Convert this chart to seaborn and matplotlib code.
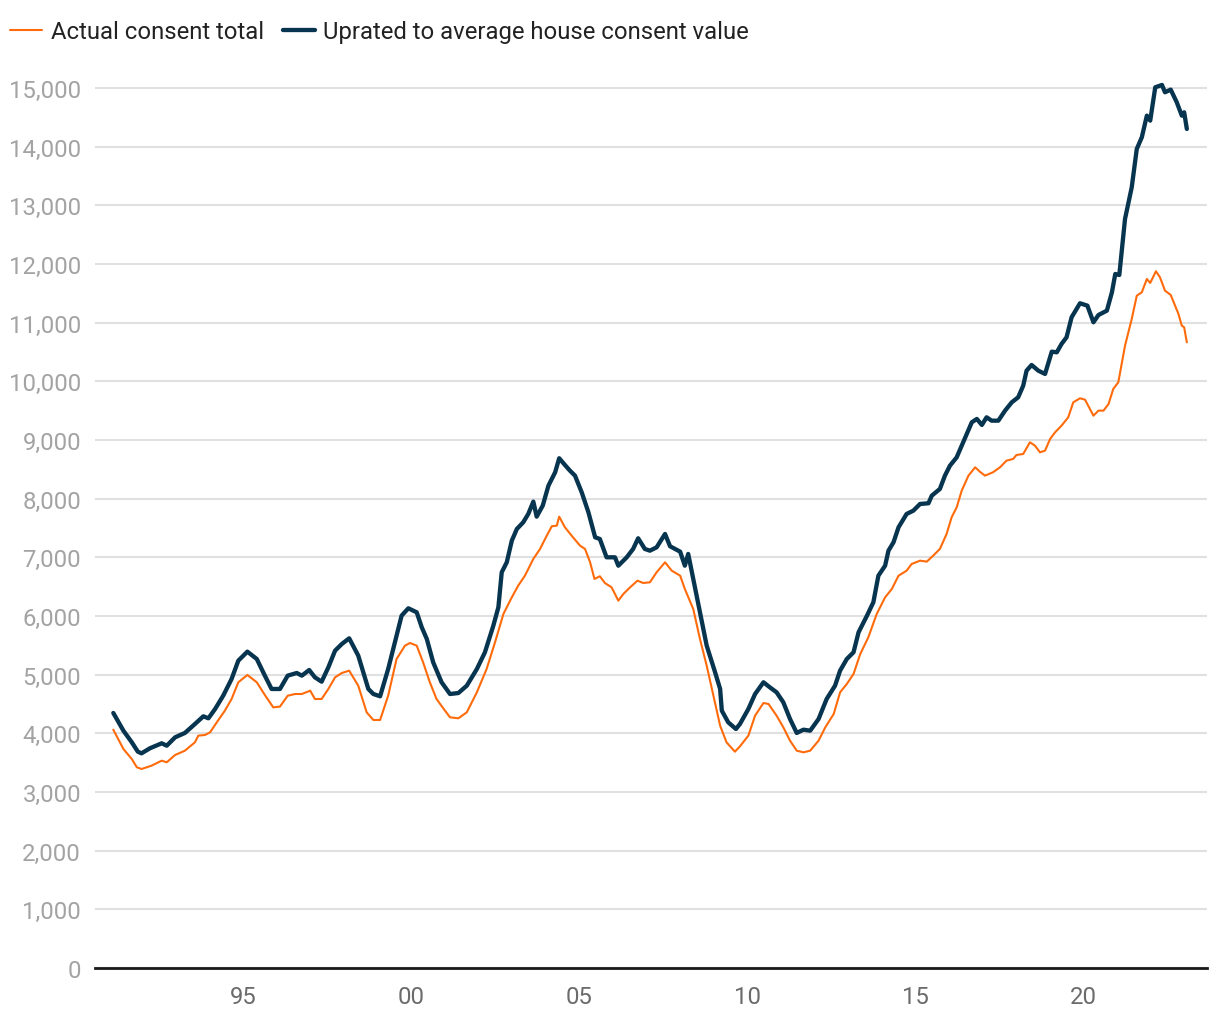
import matplotlib
matplotlib.use("Agg")
import matplotlib.pyplot as plt
import seaborn as sns
import pandas as pd
from matplotlib.ticker import FuncFormatter, FixedLocator

# ---- data ----
series_names = ["Actual consent total", "Uprated to average house consent value"]

uprated_years = [
    1991.14, 1991.44, 1991.69, 1991.87, 1991.98, 1992.23, 1992.58, 1992.73, 1992.98, 1993.27,
    1993.57, 1993.82, 1993.97, 1994.17, 1994.41, 1994.66, 1994.86, 1995.13, 1995.41, 1995.65,
    1995.85, 1996.10, 1996.33, 1996.60, 1996.75, 1996.97, 1997.14, 1997.34, 1997.54, 1997.74,
    1997.94, 1998.16, 1998.43, 1998.73, 1998.88, 1999.08, 1999.32, 1999.57, 1999.72, 1999.92,
    2000.17, 2000.32, 2000.47, 2000.66, 2000.91, 2001.16, 2001.41, 2001.66, 2001.96, 2002.20,
    2002.45, 2002.60, 2002.70, 2002.85, 2003.00, 2003.15, 2003.34, 2003.49, 2003.64, 2003.74,
    2003.92, 2004.09, 2004.29, 2004.41, 2004.58, 2004.73, 2004.88, 2005.08, 2005.28, 2005.48,
    2005.62, 2005.82, 2006.07, 2006.17, 2006.42, 2006.61, 2006.76, 2006.96, 2007.11, 2007.31,
    2007.56, 2007.71, 2008.01, 2008.15, 2008.25, 2008.40, 2008.60, 2008.80, 2009.05, 2009.20,
    2009.25, 2009.44, 2009.67, 2009.79, 2010.04, 2010.24, 2010.49, 2010.68, 2010.88, 2011.08,
    2011.28, 2011.48, 2011.68, 2011.88, 2012.13, 2012.37, 2012.62, 2012.77, 2012.97, 2013.17,
    2013.32, 2013.57, 2013.76, 2013.91, 2014.11, 2014.21, 2014.36, 2014.51, 2014.75, 2014.95,
    2015.15, 2015.40, 2015.50, 2015.74, 2015.89, 2016.04, 2016.24, 2016.39, 2016.54, 2016.69,
    2016.84, 2016.99, 2017.13, 2017.28, 2017.48, 2017.68, 2017.88, 2018.07, 2018.22, 2018.32,
    2018.47, 2018.67, 2018.87, 2019.07, 2019.22, 2019.36, 2019.51, 2019.66, 2019.91, 2020.13,
    2020.31, 2020.46, 2020.71, 2020.86, 2020.96, 2021.08, 2021.25, 2021.45, 2021.60, 2021.75,
    2021.90, 2022.00, 2022.15, 2022.35, 2022.44, 2022.61, 2022.79, 2022.94, 2023.01, 2023.09,
]
uprated_values = [
    4347, 4045, 3847, 3687, 3659, 3745, 3830, 3789, 3932, 4006,
    4159, 4290, 4256, 4415, 4641, 4926, 5238, 5392, 5267, 4983,
    4756, 4756, 4983, 5028, 4983, 5079, 4954, 4880, 5125, 5409,
    5522, 5619, 5324, 4756, 4670, 4631, 5096, 5664, 6005, 6131,
    6062, 5807, 5608, 5210, 4870, 4670, 4687, 4812, 5096, 5381,
    5835, 6148, 6745, 6915, 7284, 7483, 7597, 7739, 7949, 7693,
    7880, 8221, 8449, 8688, 8574, 8477, 8392, 8108, 7767, 7341,
    7312, 7000, 7000, 6857, 7000, 7142, 7324, 7142, 7113, 7170,
    7398, 7188, 7096, 6857, 7057, 6631, 6062, 5494, 5040, 4756,
    4386, 4188, 4074, 4159, 4415, 4670, 4870, 4784, 4699, 4529,
    4244, 4006, 4062, 4045, 4244, 4585, 4812, 5068, 5267, 5381,
    5722, 6005, 6233, 6687, 6857, 7113, 7256, 7512, 7739, 7795,
    7909, 7921, 8051, 8165, 8392, 8562, 8704, 8903, 9102, 9301,
    9358, 9256, 9386, 9329, 9329, 9500, 9642, 9727, 9925, 10181,
    10278, 10181, 10125, 10505, 10494, 10636, 10750, 11091, 11330, 11289,
    11006, 11130, 11204, 11517, 11829, 11812, 12767, 13307, 13960, 14159,
    14528, 14443, 15011, 15051, 14926, 14971, 14756, 14528, 14585, 14301,
]

actual_years = [
    1991.14, 1991.44, 1991.69, 1991.84, 1991.98, 1992.28, 1992.58, 1992.73, 1992.98, 1993.27,
    1993.57, 1993.67, 1993.87, 1994.02, 1994.22, 1994.46, 1994.66, 1994.86, 1995.13, 1995.41,
    1995.65, 1995.90, 1996.10, 1996.33, 1996.55, 1996.75, 1997.00, 1997.14, 1997.34, 1997.54,
    1997.74, 1997.94, 1998.16, 1998.43, 1998.68, 1998.88, 1999.08, 1999.32, 1999.57, 1999.82,
    1999.97, 2000.17, 2000.36, 2000.56, 2000.76, 2000.96, 2001.16, 2001.41, 2001.66, 2001.96,
    2002.25, 2002.50, 2002.75, 2003.00, 2003.19, 2003.39, 2003.64, 2003.84, 2004.04, 2004.19,
    2004.34, 2004.41, 2004.58, 2004.78, 2005.03, 2005.18, 2005.33, 2005.46, 2005.62, 2005.77,
    2005.97, 2006.17, 2006.32, 2006.52, 2006.74, 2006.91, 2007.11, 2007.31, 2007.56, 2007.76,
    2008.01, 2008.15, 2008.40, 2008.60, 2008.80, 2009.00, 2009.20, 2009.39, 2009.64, 2009.79,
    2010.04, 2010.24, 2010.49, 2010.64, 2010.88, 2011.08, 2011.28, 2011.48, 2011.68, 2011.88,
    2012.13, 2012.33, 2012.58, 2012.77, 2012.97, 2013.17, 2013.37, 2013.61, 2013.86, 2014.11,
    2014.31, 2014.51, 2014.75, 2014.90, 2015.15, 2015.35, 2015.54, 2015.74, 2015.94, 2016.09,
    2016.24, 2016.39, 2016.59, 2016.79, 2016.93, 2017.08, 2017.32, 2017.53, 2017.72, 2017.92,
    2018.02, 2018.22, 2018.42, 2018.57, 2018.72, 2018.87, 2019.02, 2019.17, 2019.36, 2019.56,
    2019.71, 2019.91, 2020.06, 2020.31, 2020.46, 2020.61, 2020.76, 2020.90, 2021.05, 2021.25,
    2021.45, 2021.60, 2021.75, 2021.90, 2022.00, 2022.17, 2022.29, 2022.44, 2022.61, 2022.74,
    2022.84, 2022.94, 2023.01, 2023.09,
]
actual_values = [
    4062, 3733, 3562, 3421, 3392, 3449, 3534, 3506, 3631, 3704,
    3847, 3960, 3972, 4017, 4188, 4386, 4585, 4870, 4994, 4870,
    4653, 4443, 4455, 4641, 4670, 4670, 4727, 4585, 4585, 4756,
    4954, 5028, 5068, 4812, 4358, 4227, 4227, 4641, 5267, 5494,
    5540, 5494, 5210, 4870, 4585, 4426, 4273, 4256, 4358, 4699,
    5096, 5551, 6034, 6318, 6517, 6687, 6972, 7142, 7369, 7529,
    7540, 7693, 7512, 7369, 7199, 7142, 6915, 6631, 6677, 6562,
    6488, 6261, 6375, 6488, 6602, 6562, 6574, 6745, 6915, 6772,
    6687, 6460, 6119, 5608, 5153, 4641, 4130, 3847, 3687, 3778,
    3960, 4301, 4517, 4500, 4301, 4103, 3875, 3704, 3676, 3704,
    3875, 4103, 4330, 4699, 4841, 5011, 5352, 5636, 6034, 6318,
    6460, 6687, 6772, 6886, 6943, 6926, 7028, 7142, 7398, 7682,
    7852, 8136, 8392, 8534, 8460, 8392, 8449, 8534, 8647, 8676,
    8744, 8761, 8960, 8903, 8789, 8818, 9017, 9131, 9244, 9386,
    9642, 9710, 9687, 9414, 9500, 9500, 9613, 9869, 9983, 10607,
    11062, 11459, 11517, 11744, 11676, 11875, 11773, 11545, 11472, 11289,
    11148, 10948, 10920, 10665,
]

x_tick_years = [1995, 2000, 2005, 2010, 2015, 2020]
x_tick_labels = ["95", "00", "05", "10", "15", "20"]
y_ticks = list(range(0, 15001, 1000))

# ---- styling ----
sns.set_theme(style="white")
plt.rcParams["font.family"] = ["Roboto", "DejaVu Sans"]

ORANGE = "#ff6b0a"
NAVY = "#07344f"
FS = 17.2

fig = plt.figure(figsize=(12.2, 10.2), dpi=100)
ax = fig.add_axes([95 / 1220, 51 / 1020, 1112 / 1220, 909.4 / 1020])

df_actual = pd.DataFrame({"year": actual_years, "value": actual_values})
df_uprated = pd.DataFrame({"year": uprated_years, "value": uprated_values})

sns.lineplot(data=df_actual, x="year", y="value", ax=ax, color=ORANGE,
             linewidth=1.5, label=series_names[0], zorder=3)
sns.lineplot(data=df_uprated, x="year", y="value", ax=ax, color=NAVY,
             linewidth=3.1, label=series_names[1], zorder=4)

ax.set_xlim(1990.595, 2023.69)
ax.set_ylim(0, 15500)

ax.yaxis.set_major_locator(FixedLocator(y_ticks))
ax.yaxis.set_major_formatter(FuncFormatter(lambda v, p: f"{int(v):,}"))
ax.set_xticks(x_tick_years)
ax.set_xticklabels(x_tick_labels)

ax.grid(axis="y", color="#e0e0e0", linewidth=1.5)
ax.grid(axis="x", visible=False)
ax.set_axisbelow(True)
for s in ["top", "right", "left"]:
    ax.spines[s].set_visible(False)
ax.spines["bottom"].set_color("#1a1a1a")
ax.spines["bottom"].set_linewidth(2.0)

ax.tick_params(axis="y", length=0, pad=10, labelsize=FS, labelcolor="#a3a3a3")
ax.tick_params(axis="x", length=0, pad=12, labelsize=FS, labelcolor="#6b6b6b")
ax.set_xlabel("")
ax.set_ylabel("")

handles, labels = ax.get_legend_handles_labels()
ax.legend(handles=handles, labels=labels, loc="upper left",
          bbox_to_anchor=(10 / 1220, 1 - 21 / 1020), bbox_transform=fig.transFigure,
          ncol=2, frameon=False, fontsize=FS, handlelength=1.35,
          handletextpad=0.35, columnspacing=0.8, borderpad=0, borderaxespad=0,
          labelcolor="#222222")

fig.savefig("out.png", dpi=100, facecolor="white")
